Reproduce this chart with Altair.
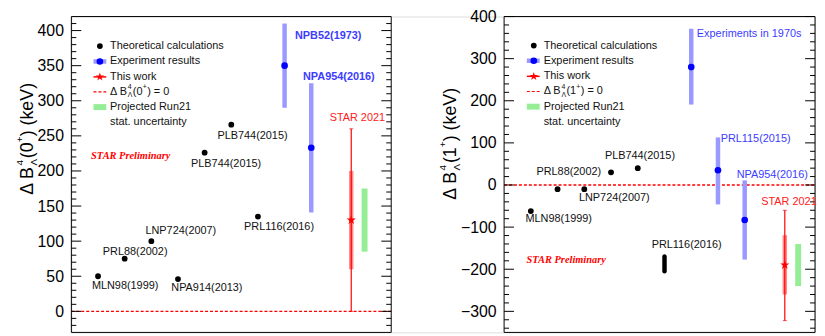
import altair as alt
import pandas as pd

FONT = "Liberation Sans"
SERIF = "Liberation Serif"
STAR_PATH = ("M0,-1L0.2245,-0.309L0.951,-0.309L0.363,0.118L0.588,0.809L0,0.382"
             "L-0.588,0.809L-0.363,0.118L-0.951,-0.309L-0.2245,-0.309Z")

# ================= Left panel : Delta B(0+) =================
L_xdom = [0, 12]
L_ydom = [-30, 420]
L_major = list(range(0, 401, 50))
L_minor = [v for v in range(-20, 420, 10) if v % 50 != 0]

L_th_x = [1, 2, 3, 4, 5, 6, 7]
L_th_y = [50, 75, 100, 46, 226, 266, 135]
L_th_lab = ["MLN98(1999)", "PRL88(2002)", "LNP724(2007)", "NPA914(2013)",
            "PLB744(2015)", "PLB744(2015)", "PRL116(2016)"]
L_th_lab_x = [0.77, 1.18, 2.78, 3.75, 4.49, 5.48, 6.48]
L_th_lab_y = [36, 85, 114, 33, 210, 250, 120]

L_ex_x = [8, 9]
L_ex_y = [350, 233]
L_ex_lo = [290, 141]
L_ex_hi = [410, 325]
L_ex_lab = ["NPB52(1973)", "NPA954(2016)"]
L_ex_lab_x = [8.39, 8.69]
L_ex_lab_y = [392, 334]

L_star_x = [10.5]
L_star_y = [130]
L_stat_lo = [0]
L_stat_hi = [260]
L_sys_lo = [60]
L_sys_hi = [200]
L_proj_x = [11]
L_proj_lo = [85]
L_proj_hi = [175]
L_star_lab = ["STAR 2021"]
L_star_lab_x = [9.69]
L_star_lab_y = [275]

L_prelim_x = [0.74]
L_prelim_y = [221]

L_leg_y = [378, 356, 334, 312.6, 291, 269]
L_leg_sym_x = [1.07]
L_leg_seg = [0.83, 1.31]
L_leg_text_x = [1.45]
L_state = "0"

# ================= Right panel : Delta B(1+) =================
R_xdom = [0, 11.63]
R_ydom = [-350, 400]
R_major = list(range(-300, 401, 100))
R_minor = [v for v in range(-340, 400, 20) if v % 100 != 0]

R_th_x = [1, 2, 3, 4, 5]
R_th_y = [-62, -10, -10, 30, 40]
R_th_lab = ["MLN98(1999)", "PRL88(2002)", "LNP724(2007)", "PLB744(2015)", "PRL116(2016)"]
R_th_lab_x = [0.80, 1.21, 2.80, 3.77, 5.52]
R_th_lab_y = [-81, 30, -31.6, 68.5, -141.5]

R_bar_x = [6]
R_bar_lo = [-205]
R_bar_hi = [-170]

R_ex_x = [7, 8, 9]
R_ex_y = [280, 35, -83]
R_ex_lo = [191, -46, -177]
R_ex_hi = [371, 113, 11]
R_ex_lab = ["Experiments in 1970s", "PRL115(2015)", "NPA954(2016)"]
R_ex_lab_x = [7.21, 8.10, 8.70]
R_ex_lab_y = [359, 108.5, 24.7]

R_star_x = [10.5]
R_star_y = [-190]
R_stat_lo = [-322]
R_stat_hi = [-60]
R_sys_lo = [-260]
R_sys_hi = [-119]
R_proj_x = [11]
R_proj_lo = [-240]
R_proj_hi = [-140]
R_star_lab = ["STAR 2021"]
R_star_lab_x = [9.62]
R_star_lab_y = [-41.5]

R_prelim_x = [0.84]
R_prelim_y = [-177]

R_leg_y = [331, 295, 258, 222, 186, 149]
R_leg_sym_x = [1.11]
R_leg_seg = [0.85, 1.33]
R_leg_text_x = [1.48]
R_state = "1"

LEG_TEXTS = ["Theoretical calculations", "Experiment results", "This work",
             None, "Projected Run21", "stat. uncertainty"]

# layout (pixels): both panels live in one view, each with its own x/y scales
H = 319
L_X0, L_W = 0, 323
R_X0, R_W = 437, 314
TOTAL_W = R_X0 + R_W


def build(P, x0, W):
    xs = alt.Scale(domain=P["xdom"], range=[x0, x0 + W], nice=False, zero=False)
    ys = alt.Scale(domain=P["ydom"], nice=False, zero=False)
    axis = alt.Axis(values=P["major"], ticks=False, domain=False, grid=False, orient="left",
                    offset=-x0, labelFont=FONT, labelFontSize=16, labelColor="black",
                    labelPadding=8, title=None)

    def X(f):
        return alt.X(f, type="quantitative", scale=xs, axis=None)

    def Y(f):
        return alt.Y(f, type="quantitative", scale=ys, axis=axis)

    def df(**kw):
        return pd.DataFrame(kw)

    layers = []
    # zero line (spans the panel's x domain)
    layers.append(alt.Chart(df(y=[0], xa=[P["xdom"][0]], xb=[P["xdom"][1]]))
                  .mark_rule(color="#ff0000", strokeDash=[3, 2], strokeWidth=1.3)
                  .encode(y=Y("y"), x=X("xa"), x2="xb"))
    # frame
    layers.append(alt.Chart(df(a=[0])).mark_rect(fillOpacity=0, stroke="black", strokeWidth=1)
                  .encode(x=alt.value(x0), x2=alt.value(x0 + W), y=alt.value(0), y2=alt.value(H)))
    # inward ticks both sides
    for vals, ln in ((P["major"], 10), (P["minor"], 5)):
        d = df(v=vals)
        layers.append(alt.Chart(d).mark_rule(color="black", strokeWidth=1)
                      .encode(y=Y("v"), x=alt.value(x0), x2=alt.value(x0 + ln)))
        layers.append(alt.Chart(d).mark_rule(color="black", strokeWidth=1)
                      .encode(y=Y("v"), x=alt.value(x0 + W - ln), x2=alt.value(x0 + W)))

    txt = dict(font=FONT, fontSize=11, align="left", baseline="middle")

    # theory points
    layers.append(alt.Chart(df(x=P["th_x"], y=P["th_y"])).mark_circle(size=34, color="black", opacity=1)
                  .encode(x=X("x"), y=Y("y")))
    layers.append(alt.Chart(df(x=P["th_lab_x"], y=P["th_lab_y"], t=P["th_lab"]))
                  .mark_text(color="#111111", **txt).encode(x=X("x"), y=Y("y"), text="t:N"))
    if "bar_x" in P:
        layers.append(alt.Chart(df(x=P["bar_x"], lo=P["bar_lo"], hi=P["bar_hi"]))
                      .mark_rule(color="black", strokeWidth=4.5, strokeCap="round")
                      .encode(x=X("x"), y=Y("lo"), y2="hi"))
    # experiments
    layers.append(alt.Chart(df(x=P["ex_x"], lo=P["ex_lo"], hi=P["ex_hi"]))
                  .mark_rule(color="#9999ff", strokeWidth=4.5).encode(x=X("x"), y=Y("lo"), y2="hi"))
    layers.append(alt.Chart(df(x=P["ex_x"], y=P["ex_y"])).mark_circle(size=45, color="#0000ff", opacity=1)
                  .encode(x=X("x"), y=Y("y")))
    layers.append(alt.Chart(df(x=P["ex_lab_x"], y=P["ex_lab_y"], t=P["ex_lab"]))
                  .mark_text(color="#3c3cff", fontWeight=P["ex_weight"], **txt)
                  .encode(x=X("x"), y=Y("y"), text="t:N"))
    # this work
    layers.append(alt.Chart(df(x=P["star_x"], lo=P["sys_lo"], hi=P["sys_hi"]))
                  .mark_rule(color="#ff7777", strokeWidth=4.5, opacity=0.85)
                  .encode(x=X("x"), y=Y("lo"), y2="hi"))
    layers.append(alt.Chart(df(x=P["star_x"], lo=P["stat_lo"], hi=P["stat_hi"]))
                  .mark_rule(color="red", strokeWidth=1.2).encode(x=X("x"), y=Y("lo"), y2="hi"))
    layers.append(alt.Chart(df(x=P["star_x"] * 2, y=P["stat_lo"] + P["stat_hi"]))
                  .mark_tick(color="red", orient="horizontal", size=4, thickness=1)
                  .encode(x=X("x"), y=Y("y")))
    layers.append(alt.Chart(df(x=P["star_x"], y=P["star_y"]))
                  .mark_point(shape=STAR_PATH, filled=True, size=95, color="red", opacity=1)
                  .encode(x=X("x"), y=Y("y")))
    layers.append(alt.Chart(df(x=P["star_lab_x"], y=P["star_lab_y"], t=P["star_lab"]))
                  .mark_text(color="#ff2020", **txt).encode(x=X("x"), y=Y("y"), text="t:N"))
    # projection
    layers.append(alt.Chart(df(x=P["proj_x"], lo=P["proj_lo"], hi=P["proj_hi"]))
                  .mark_rule(color="#95ee95", strokeWidth=6).encode(x=X("x"), y=Y("lo"), y2="hi"))
    # STAR Preliminary
    layers.append(alt.Chart(df(x=P["prelim_x"], y=P["prelim_y"], t=["STAR Preliminary"]))
                  .mark_text(color="red", font=SERIF, fontSize=10.5, fontStyle="italic",
                             fontWeight="bold", align="left", baseline="middle")
                  .encode(x=X("x"), y=Y("y"), text="t:N"))

    # ---- legend ----
    ly = P["leg_y"]
    sx = P["leg_sym_x"]
    s0, s1 = P["leg_seg"]
    layers.append(alt.Chart(df(x=sx, y=[ly[0]])).mark_circle(size=34, color="black", opacity=1)
                  .encode(x=X("x"), y=Y("y")))
    layers.append(alt.Chart(df(x=[s0], x2=[s1], y=[ly[1]])).mark_rule(color="#9999ff", strokeWidth=4.5)
                  .encode(x=X("x"), x2="x2", y=Y("y")))
    layers.append(alt.Chart(df(x=sx, y=[ly[1]])).mark_circle(size=45, color="#0000ff", opacity=1)
                  .encode(x=X("x"), y=Y("y")))
    layers.append(alt.Chart(df(x=[s0], x2=[s1], y=[ly[2]])).mark_rule(color="red", strokeWidth=1.5)
                  .encode(x=X("x"), x2="x2", y=Y("y")))
    layers.append(alt.Chart(df(x=sx, y=[ly[2]]))
                  .mark_point(shape=STAR_PATH, filled=True, size=80, color="red", opacity=1)
                  .encode(x=X("x"), y=Y("y")))
    layers.append(alt.Chart(df(x=[s0], x2=[s1], y=[ly[3]]))
                  .mark_rule(color="red", strokeWidth=1.2, strokeDash=[3, 2])
                  .encode(x=X("x"), x2="x2", y=Y("y")))
    layers.append(alt.Chart(df(x=[s0], x2=[s1], y=[ly[4]])).mark_rule(color="#95ee95", strokeWidth=6)
                  .encode(x=X("x"), x2="x2", y=Y("y")))
    lt = [(t, y) for t, y in zip(LEG_TEXTS, ly) if t is not None]
    layers.append(alt.Chart(df(x=P["leg_text_x"] * len(lt), y=[y for _, y in lt], t=[t for t, _ in lt]))
                  .mark_text(color="#111111", **txt).encode(x=X("x"), y=Y("y"), text="t:N"))
    st = P["state"]
    pieces = [("Δ B", 0, 0, 11), ("4", 18, -4.5, 7), ("Λ", 18, 3.5, 7),
              ("(" + st, 23, 0, 11), ("+", 33, -4.5, 7), (") = 0", 37.5, 0, 11)]
    for t, dx, dy, fs in pieces:
        layers.append(alt.Chart(df(x=P["leg_text_x"], y=[ly[3]], t=[t]))
                      .mark_text(color="#111111", font=FONT, fontSize=fs, align="left",
                                 baseline="middle", dx=dx, dy=dy)
                      .encode(x=X("x"), y=Y("y"), text="t:N"))

    # ---- y title (rotated, composed of pieces) ----
    tx, ty = P["title_pos"]
    tpieces = [("Δ B", 0, 0, 18), ("4", 29.5, -8, 10), ("Λ", 29.5, 6, 10),
               ("(" + st, 37, 0, 18), ("+", 53, -8, 10), (") (keV)", 59, 0, 18)]
    for t, dx, dy, fs in tpieces:
        layers.append(alt.Chart(df(t=[t]))
                      .mark_text(color="black", font=FONT, fontSize=fs, align="left",
                                 baseline="middle", angle=270, dx=dx, dy=dy)
                      .encode(x=alt.value(x0 + tx), y=alt.value(ty), text="t:N"))

    return alt.layer(*layers)


PL = dict(xdom=L_xdom, ydom=L_ydom, major=L_major, minor=L_minor,
          th_x=L_th_x, th_y=L_th_y, th_lab=L_th_lab, th_lab_x=L_th_lab_x, th_lab_y=L_th_lab_y,
          ex_x=L_ex_x, ex_y=L_ex_y, ex_lo=L_ex_lo, ex_hi=L_ex_hi, ex_lab=L_ex_lab,
          ex_lab_x=L_ex_lab_x, ex_lab_y=L_ex_lab_y, ex_weight="bold",
          star_x=L_star_x, star_y=L_star_y, stat_lo=L_stat_lo, stat_hi=L_stat_hi,
          sys_lo=L_sys_lo, sys_hi=L_sys_hi, proj_x=L_proj_x, proj_lo=L_proj_lo, proj_hi=L_proj_hi,
          star_lab=L_star_lab, star_lab_x=L_star_lab_x, star_lab_y=L_star_lab_y,
          prelim_x=L_prelim_x, prelim_y=L_prelim_y,
          leg_y=L_leg_y, leg_sym_x=L_leg_sym_x, leg_seg=L_leg_seg, leg_text_x=L_leg_text_x,
          state=L_state, title_pos=(-44, 180))

PR = dict(xdom=R_xdom, ydom=R_ydom, major=R_major, minor=R_minor,
          th_x=R_th_x, th_y=R_th_y, th_lab=R_th_lab, th_lab_x=R_th_lab_x, th_lab_y=R_th_lab_y,
          bar_x=R_bar_x, bar_lo=R_bar_lo, bar_hi=R_bar_hi,
          ex_x=R_ex_x, ex_y=R_ex_y, ex_lo=R_ex_lo, ex_hi=R_ex_hi, ex_lab=R_ex_lab,
          ex_lab_x=R_ex_lab_x, ex_lab_y=R_ex_lab_y, ex_weight="normal",
          star_x=R_star_x, star_y=R_star_y, stat_lo=R_stat_lo, stat_hi=R_stat_hi,
          sys_lo=R_sys_lo, sys_hi=R_sys_hi, proj_x=R_proj_x, proj_lo=R_proj_lo, proj_hi=R_proj_hi,
          star_lab=R_star_lab, star_lab_x=R_star_lab_x, star_lab_y=R_star_lab_y,
          prelim_x=R_prelim_x, prelim_y=R_prelim_y,
          leg_y=R_leg_y, leg_sym_x=R_leg_sym_x, leg_seg=R_leg_seg, leg_text_x=R_leg_text_x,
          state=R_state, title_pos=(-54, 185))

chart = alt.layer(build(PL, L_X0, L_W), build(PR, R_X0, R_W)).resolve_scale(
    x="independent", y="independent"
).properties(
    width=TOTAL_W, height=H,
    autosize=alt.AutoSizeParams(type="none"),
    padding={"left": 64, "top": 7, "right": 2, "bottom": 1},
).configure_view(stroke=None).configure(background="white")

chart.save("out.html", embed_options={"renderer": "svg", "actions": False})
